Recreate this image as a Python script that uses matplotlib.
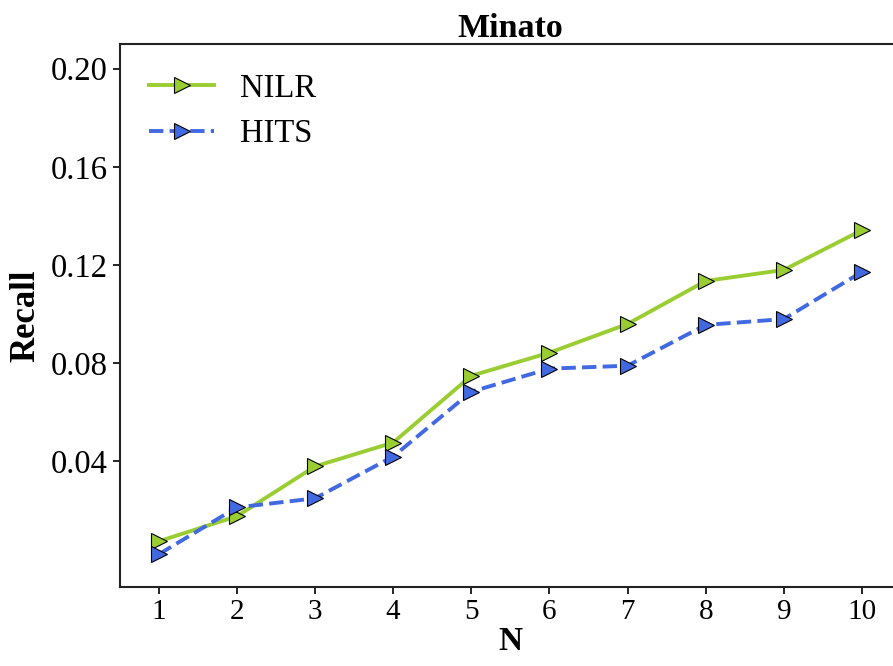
import matplotlib
matplotlib.use('Agg')
import matplotlib.pyplot as plt

plt.rcParams['font.family'] = ['Liberation Serif', 'DejaVu Serif']

N = [1, 2, 3, 4, 5, 6, 7, 8, 9, 10]
nilr = [0.0075, 0.0177, 0.0380, 0.0477, 0.0749, 0.0843, 0.0960, 0.1135, 0.1180, 0.1342]
hits = [0.0022, 0.0213, 0.0250, 0.0420, 0.0684, 0.0778, 0.0790, 0.0956, 0.0980, 0.1172]
yticks = [0.04, 0.08, 0.12, 0.16, 0.20]

fig = plt.figure(figsize=(8.93, 6.66), dpi=100)
ax = fig.add_axes([0.134, 0.119, 0.875, 0.815])

ax.plot(N, nilr, color='yellowgreen', lw=2.8, marker='>', ms=12,
        markeredgecolor='black', markeredgewidth=0.8, label='NILR')
ax.plot(N, hits, color='royalblue', lw=2.8, ls='--', marker='>', ms=12,
        markeredgecolor='black', markeredgewidth=0.8, label='HITS')

ax.set_xlim(0.5, 10.5)
ax.set_ylim(-0.011, 0.21)
ax.set_xticks(N)
ax.set_yticks(yticks)
ax.set_yticklabels(['%.2f' % v for v in yticks])
ax.tick_params(width=1.2, length=5)
ax.tick_params(axis='x', labelsize=21)
ax.tick_params(axis='y', labelsize=23.5)
for s in ax.spines.values():
    s.set_linewidth(1.5)
    s.set_color('#222222')

ax.set_xlabel('N', fontsize=24, fontweight='bold', labelpad=1)
ax.set_ylabel('Recall', fontsize=25, fontweight='bold', labelpad=6)
ax.set_title('Minato', fontsize=24.5, fontweight='bold', pad=5)

ax.legend(loc='upper left', fontsize=23.5, frameon=False, handlelength=2.0,
          borderaxespad=0.5, labelspacing=0.45)

fig.savefig('out.png', dpi=100)
